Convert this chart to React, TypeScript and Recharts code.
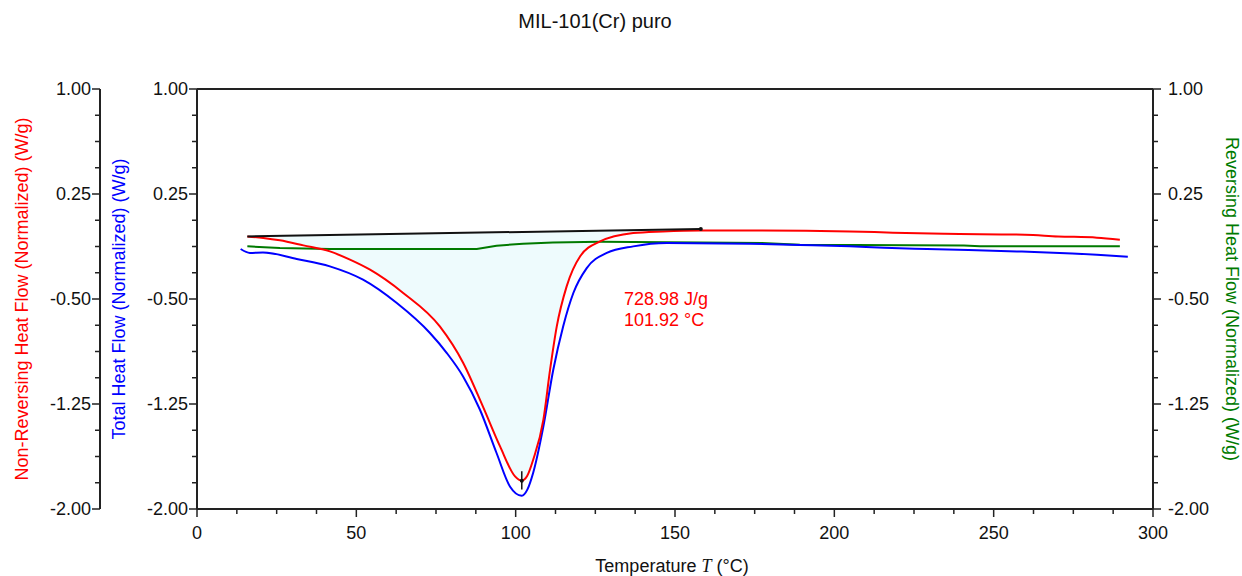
import React from 'react';
import { ComposedChart, Line, Area, XAxis, YAxis, ReferenceLine, ReferenceDot } from 'recharts';

// ---------- data (temperature °C, heat flow W/g) ----------
const NONREV: [number, number][] = [
  [15.8, -0.053], [20.8, -0.064], [26.0, -0.081], [33.4, -0.117], [41.7, -0.16], [48.0, -0.219],
  [54.3, -0.291], [64.6, -0.455], [76.2, -0.696], [83.5, -0.955], [89.7, -1.267], [95.1, -1.553],
  [99.8, -1.767], [101.9, -1.798], [103.6, -1.765], [105.5, -1.648], [108.7, -1.362], [110.8, -1.005],
  [112.9, -0.696], [116.0, -0.41], [120.2, -0.196], [126.5, -0.089], [136.9, -0.029], [146.2, -0.017],
  [157.8, -0.01], [175.0, -0.01], [204.9, -0.017], [218.4, -0.026], [234.7, -0.034], [259.8, -0.041],
  [270.2, -0.053], [282.4, -0.062], [289.6, -0.076],
];
const TOTAL: [number, number][] = [
  [13.7, -0.143], [16.6, -0.171], [20.7, -0.167], [31.3, -0.214], [41.7, -0.267], [52.1, -0.362],
  [62.7, -0.529], [73.1, -0.743], [78.4, -0.886], [83.5, -1.053], [88.8, -1.291], [94.0, -1.6],
  [98.2, -1.839], [101.9, -1.905], [103.7, -1.86], [105.5, -1.741], [108.7, -1.41], [111.8, -1.005],
  [114.9, -0.696], [118.1, -0.457], [122.3, -0.279], [128.6, -0.171], [136.9, -0.124], [147.4, -0.1],
  [173.5, -0.105], [189.2, -0.114], [204.9, -0.124], [215.6, -0.134], [229.1, -0.143], [257.3, -0.16],
  [266.7, -0.167], [282.4, -0.184], [292.1, -0.198],
];
const REV: [number, number][] = [
  [15.8, -0.124], [26.0, -0.136], [41.7, -0.143], [87.8, -0.143], [94.0, -0.119], [102.3, -0.105],
  [111.7, -0.096], [126.5, -0.091], [157.8, -0.096], [177.3, -0.1], [189.2, -0.112], [240.7, -0.117],
  [245.7, -0.124], [289.6, -0.124],
];
const BASELINE: [number, number][] = [[15.8, -0.053], [158.1, 0.0]];
const PEAK_T = 101.92;
const PEAK_V = -1.798;
const PEAK_MARK: [number, number] = [-1.73, -1.86];

const X_TICKS = [0, 12.5, 25, 37.5, 50, 62.5, 75, 87.5, 100, 112.5, 125, 137.5, 150, 162.5, 175, 187.5, 200, 212.5, 225, 237.5, 250, 262.5, 275, 287.5, 300];
const X_MAJOR = [0, 50, 100, 150, 200, 250, 300];
const Y_TICKS = [1, 0.8125, 0.625, 0.4375, 0.25, 0.0625, -0.125, -0.3125, -0.5, -0.6875, -0.875, -1.0625, -1.25, -1.4375, -1.625, -1.8125, -2];
const Y_MAJOR = [1, 0.25, -0.5, -1.25, -2];

const TITLE = 'MIL-101(Cr) puro';
const X_LABEL = 'Temperature ';
const NONREV_LABEL = 'Non-Reversing Heat Flow (Normalized) (W/g)';
const TOTAL_LABEL = 'Total Heat Flow (Normalized) (W/g)';
const REV_LABEL = 'Reversing Heat Flow (Normalized) (W/g)';
const AREA_LABEL = ['728.98 J/g', '101.92 °C'];

// ---------- derived tables ----------
const toRows = (pts: [number, number][]) => pts.map(([t, v]) => ({ t, v }));
const baseAt = (t: number) => {
  const [[t0, v0], [t1, v1]] = BASELINE;
  return v0 + ((t - t0) * (v1 - v0)) / (t1 - t0);
};
const AREA_ROWS = NONREV.filter(([t]) => t >= BASELINE[0][0] && t <= BASELINE[1][0]).map(([t, v]) => ({
  t,
  range: [v, baseAt(t)],
}));

const FONT = '"Liberation Sans", Arial, Helvetica, sans-serif';
const AXIS = '#222';
const TS = 8;
const TM = 4;
const RED = '#ff0000';
const BLUE = '#0000ff';
const GREEN = '#007a00';
const ID_TOTAL = 'y1_total';
const ID_NONREV = 'y2_nonrev';
const ID_REV = 'y3_rev';

const YTickLeft = (props: any) => {
  const { x, y, payload } = props;
  const ax = x + TS + TM;
  const major = Y_MAJOR.includes(payload.value);
  return (
    <g>
      <line x1={ax} x2={ax - (major ? 8 : 5)} y1={y} y2={y} stroke={AXIS} strokeWidth={1.5} />
      {major && (
        <text x={ax - 9} y={y} dy="0.35em" textAnchor="end" fontSize={18} fontFamily={FONT} fill="#111">
          {payload.value.toFixed(2)}
        </text>
      )}
    </g>
  );
};
const YTickRight = (props: any) => {
  const { x, y, payload } = props;
  const ax = x - TS - TM;
  const major = Y_MAJOR.includes(payload.value);
  return (
    <g>
      <line x1={ax} x2={ax + (major ? 8 : 5)} y1={y} y2={y} stroke={AXIS} strokeWidth={1.5} />
      {major && (
        <text x={ax + 15} y={y} dy="0.35em" textAnchor="start" fontSize={18} fontFamily={FONT} fill="#111">
          {payload.value.toFixed(2)}
        </text>
      )}
    </g>
  );
};
const XTick = (props: any) => {
  const { x, y, payload } = props;
  const ay = y - TS - TM;
  const major = X_MAJOR.includes(payload.value);
  return (
    <g>
      <line x1={x} x2={x} y1={ay} y2={ay + (major ? 8 : 5)} stroke={AXIS} strokeWidth={1.5} />
      {major && (
        <text x={x} y={ay + 24} dy="0.35em" textAnchor="middle" fontSize={18} fontFamily={FONT} fill="#111">
          {payload.value}
        </text>
      )}
    </g>
  );
};

const yTitle = (text: string, color: string, dx: number, angle: number) => (p: any) => {
  const vb = p.viewBox || {};
  const cx = vb.x + vb.width / 2 + dx;
  const cy = vb.y + vb.height / 2;
  return (
    <text
      x={cx}
      y={cy}
      textAnchor="middle"
      dominantBaseline="central"
      transform={`rotate(${angle}, ${cx}, ${cy})`}
      fontSize={18}
      fontFamily={FONT}
      fill={color}
    >
      {text}
    </text>
  );
};
const xTitle = (p: any) => {
  const vb = p.viewBox || {};
  const cx = vb.x + vb.width / 2 - 3;
  const cy = vb.y + 57;
  return (
    <text x={cx} y={cy} textAnchor="middle" dominantBaseline="central" fontSize={18} fontFamily={FONT} fill="#111">
      {X_LABEL}
      <tspan fontStyle="italic" fontFamily='"Times New Roman", "Liberation Serif", serif'>T</tspan>
      {' (°C)'}
    </text>
  );
};

export default function App() {
  return (
    <div style={{ position: 'absolute', left: 0, top: 0, width: 1242, height: 576, background: '#fff' }}>
      <div
        style={{
          position: 'absolute',
          left: 0,
          top: 10,
          width: 1190,
          textAlign: 'center',
          fontFamily: FONT,
          fontSize: 20,
          color: '#111',
        }}
      >
        {TITLE}
      </div>
      <ComposedChart width={1242} height={576} margin={{ top: 89, right: 0, bottom: 7, left: 0 }}>
        <XAxis
          dataKey="t"
          type="number"
          domain={[0, 300]}
          ticks={X_TICKS}
          interval={0}
          allowDataOverflow
          height={60}
          tickSize={TS}
          tickMargin={TM}
          tickLine={false}
          tick={<XTick />}
          axisLine={{ stroke: AXIS, strokeWidth: 2 }}
          label={{ content: xTitle }}
        />
        <YAxis
          yAxisId={ID_TOTAL}
          orientation="left"
          type="number"
          domain={[-2, 1]}
          ticks={Y_TICKS}
          interval={0}
          allowDataOverflow
          width={97}
          tickSize={TS}
          tickMargin={TM}
          tickLine={false}
          tick={<YTickLeft />}
          axisLine={{ stroke: AXIS, strokeWidth: 2 }}
          label={{ content: yTitle(TOTAL_LABEL, BLUE, -30, -90) }}
        />
        <YAxis
          yAxisId={ID_NONREV}
          orientation="left"
          type="number"
          domain={[-2, 1]}
          ticks={Y_TICKS}
          interval={0}
          allowDataOverflow
          width={100}
          tickSize={TS}
          tickMargin={TM}
          tickLine={false}
          tick={<YTickLeft />}
          axisLine={{ stroke: AXIS, strokeWidth: 2 }}
          label={{ content: yTitle(NONREV_LABEL, RED, -28, -90) }}
        />
        <YAxis
          yAxisId={ID_REV}
          orientation="right"
          type="number"
          domain={[-2, 1]}
          ticks={Y_TICKS}
          interval={0}
          allowDataOverflow
          width={89}
          tickSize={TS}
          tickMargin={TM}
          tickLine={false}
          tick={<YTickRight />}
          axisLine={{ stroke: AXIS, strokeWidth: 2 }}
          label={{ content: yTitle(REV_LABEL, GREEN, 34, 90) }}
        />
        <ReferenceLine yAxisId={ID_TOTAL} y={1} stroke={AXIS} strokeWidth={2} />
        <Area
          yAxisId={ID_NONREV}
          data={AREA_ROWS}
          dataKey="range"
          type="monotone"
          stroke="none"
          fill="#eefbfd"
          fillOpacity={1}
          isAnimationActive={false}
          dot={false}
          activeDot={false}
        />
        <Line yAxisId={ID_REV} data={toRows(REV)} dataKey="v" type="linear" stroke={GREEN} strokeWidth={2} dot={false} isAnimationActive={false} />
        <Line yAxisId={ID_TOTAL} data={toRows(TOTAL)} dataKey="v" type="monotone" stroke={BLUE} strokeWidth={2} dot={false} isAnimationActive={false} />
        <Line yAxisId={ID_NONREV} data={toRows(NONREV)} dataKey="v" type="monotone" stroke={RED} strokeWidth={2} dot={false} isAnimationActive={false} />
        <Line yAxisId={ID_NONREV} data={toRows(BASELINE)} dataKey="v" type="linear" stroke="#111" strokeWidth={2} dot={false} isAnimationActive={false} />
        <ReferenceDot yAxisId={ID_NONREV} x={BASELINE[1][0]} y={BASELINE[1][1]} r={2} fill="#111" stroke="none" />
        <ReferenceLine
          yAxisId={ID_NONREV}
          segment={[{ x: PEAK_T, y: PEAK_MARK[0] }, { x: PEAK_T, y: PEAK_MARK[1] }]}
          stroke="#111"
          strokeWidth={1.5}
        />
        <ReferenceDot yAxisId={ID_NONREV} x={PEAK_T} y={PEAK_V} r={2} fill="#111" stroke="none" />
        <ReferenceDot
          yAxisId={ID_NONREV}
          x={134}
          y={-0.5}
          r={0}
          label={{
            content: (p: any) => {
              const vb = p.viewBox || {};
              const x = vb.x !== undefined ? vb.x : p.x;
              const y = vb.y !== undefined ? vb.y : p.y;
              return (
                <text x={x} y={y} fontSize={18} fontFamily={FONT} fill={RED}>
                  <tspan x={x} dy="0.35em">{AREA_LABEL[0]}</tspan>
                  <tspan x={x} dy="1.15em">{AREA_LABEL[1]}</tspan>
                </text>
              );
            },
          }}
        />
      </ComposedChart>
    </div>
  );
}
